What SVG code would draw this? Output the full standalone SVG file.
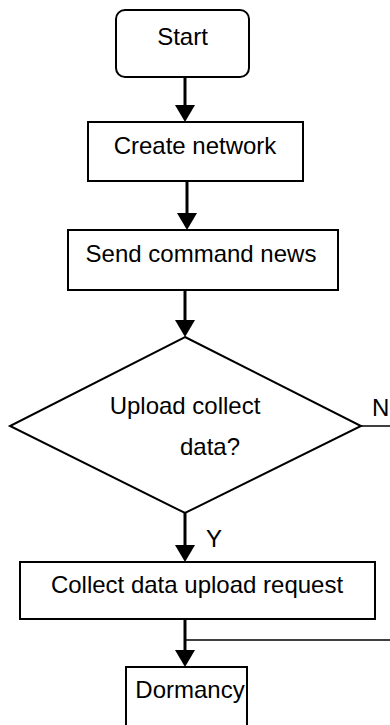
<svg xmlns="http://www.w3.org/2000/svg" width="390" height="725" viewBox="0 0 390 725">
  <defs>
    <style>
      .box { fill: #ffffff; stroke: #000000; stroke-width: 2; }
      .label { font-family: "Liberation Sans", Arial, sans-serif; font-size: 24px; fill: #000000; }
      .mid { text-anchor: middle; }
      .flow { stroke: #000000; stroke-width: 3; fill: none; marker-end: url(#head); }
      .thin { stroke: #000000; stroke-width: 1.5; fill: none; }
    </style>
    <!-- solid triangular arrowhead; the line stops at its base -->
    <marker id="head" viewBox="0 0 17 20" markerWidth="17" markerHeight="20" refX="0" refY="10" orient="auto" markerUnits="userSpaceOnUse">
      <path d="M0,0 L17,10 L0,20 z" fill="#000000"/>
    </marker>
  </defs>
  <rect width="390" height="725" fill="#ffffff"/>

  <g id="connectors">
    <line class="flow" x1="185" y1="77" x2="185" y2="105"/>
    <line class="flow" x1="187" y1="181" x2="187" y2="213"/>
    <line class="flow" x1="185" y1="290" x2="185" y2="320"/>
    <line class="flow" x1="185" y1="513" x2="185" y2="545"/>
    <line class="flow" x1="185" y1="619" x2="185" y2="650"/>
    <!-- "N" branch leaving the decision to the right -->
    <line class="thin" x1="361" y1="426" x2="390" y2="426"/>
    <!-- return line joining the flow above Dormancy -->
    <line class="thin" x1="185" y1="640" x2="390" y2="640"/>
    <text class="label" x="372" y="416">N</text>
    <text class="label" x="206" y="547">Y</text>
  </g>

  <g id="start">
    <rect class="box" x="116" y="10" width="133" height="67" rx="9" ry="9"/>
    <text class="label mid" x="182.5" y="45">Start</text>
  </g>

  <g id="create-network">
    <rect class="box" x="88" y="122" width="215" height="59"/>
    <text class="label mid" x="195" y="154">Create network</text>
  </g>

  <g id="send-command">
    <rect class="box" x="68" y="230" width="270" height="60"/>
    <text class="label mid" x="201" y="262">Send command news</text>
  </g>

  <g id="upload-decision">
    <polygon class="box" points="185,337 361,426 185,513 10,426"/>
    <text class="label mid" x="185" y="414">Upload collect</text>
    <text class="label" x="180" y="455">data?</text>
  </g>

  <g id="collect-request">
    <rect class="box" x="20" y="562" width="355" height="57"/>
    <text class="label mid" x="197" y="593">Collect data upload request</text>
  </g>

  <g id="dormancy">
    <rect class="box" x="126" y="667" width="121" height="80"/>
    <text class="label mid" x="190" y="698">Dormancy</text>
  </g>
</svg>
